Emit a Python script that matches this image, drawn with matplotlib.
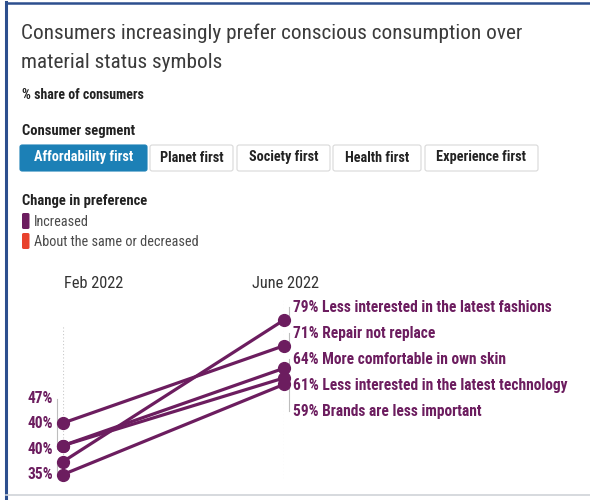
import matplotlib
matplotlib.use("Agg")
import matplotlib.pyplot as plt
from matplotlib import font_manager
from matplotlib.patches import FancyBboxPatch
from matplotlib.lines import Line2D
from matplotlib.transforms import offset_copy

# data
periods = ["Feb 2022", "June 2022"]
items = ["Less interested in the latest fashions", "Repair not replace",
         "More comfortable in own skin", "Less interested in the latest technology",
         "Brands are less important"]
feb = [35, 47, 40, 40, 31]
june = [79, 71, 64, 61, 59]
feb_labels = ["47%", "40%", "40%", "35%"]
segments = ["Affordability first", "Planet first", "Society first", "Health first", "Experience first"]
legend_items = ["Increased", "About the same or decreased"]

PURPLE = "#6c1d5f"
RED = "#e8412c"
BLUE = "#1c80b6"
W, H = 590, 500

installed = {f.name for f in font_manager.fontManager.ttflist}
narrow = [f for f in ["Roboto Condensed", "Liberation Sans Narrow", "Open Sans Condensed",
                      "DejaVu Sans Condensed", "Roboto"] if f in installed]
plt.rcParams["font.family"] = narrow + ["DejaVu Sans"]


def fx(x):
    return x / W


def fy(y):
    return 1 - y / H


fig = plt.figure(figsize=(W / 100, H / 100), dpi=100)
fig.patch.set_facecolor("white")

# frame edges
fig.add_artist(Line2D([fx(6), fx(6)], [0, fy(2)], color="#2d4f8e", lw=2.2))
fig.add_artist(Line2D([fx(6), 1], [fy(2.5), fy(2.5)], color="#2d4f8e", lw=1.8))
fig.add_artist(Line2D([fx(6), 1], [fy(495), fy(495)], color="#cfd3d8", lw=1.2))

# titles
fig.text(fx(21), fy(33), "Consumers increasingly prefer conscious consumption over",
         fontsize=15.3, color="#3b3b3b", va="center")
fig.text(fx(21), fy(62), "material status symbols", fontsize=15.3, color="#3b3b3b", va="center")
fig.text(fx(22), fy(95), "% share of consumers", fontsize=10, fontweight="bold",
         color="#222222", va="center")

# segment buttons
fig.text(fx(22), fy(131), "Consumer segment", fontsize=10.5, fontweight="bold",
         color="#222222", va="center")
btn_x = [20, 150, 237, 333, 425]
btn_w = [127, 83, 93, 88, 113]
for i, (name, x0, w) in enumerate(zip(segments, btn_x, btn_w)):
    active = i == 0
    box = FancyBboxPatch((fx(x0), fy(171)), fx(w), 26 / H,
                         boxstyle="round,pad=0,rounding_size=0.004",
                         transform=fig.transFigure,
                         facecolor=BLUE if active else "white",
                         edgecolor=BLUE if active else "#d9d9d9", lw=0.8)
    fig.add_artist(box)
    fig.text(fx(x0 + w / 2), fy(157.5), name, fontsize=10.3, fontweight="bold",
             color="white" if active else "#222222", ha="center", va="center")

# legend
fig.text(fx(22), fy(201), "Change in preference", fontsize=10.5, fontweight="bold",
         color="#222222", va="center")
for k, (lab, col) in enumerate(zip(legend_items, [PURPLE, RED])):
    ytop = 213 + k * 20
    fig.add_artist(FancyBboxPatch((fx(22), fy(ytop + 16)), fx(7.5), 16 / H,
                                  boxstyle="round,pad=0,rounding_size=0.003",
                                  transform=fig.transFigure, facecolor=col, edgecolor="none"))
    fig.text(fx(34), fy(ytop + 8.5), lab, fontsize=10.3, color="#4a4a4a", va="center")

# slope chart
ax = fig.add_axes([fx(63), fy(480), (284 - 63) / W, 180 / H])
ax.set_xlim(0, 1)
ax.set_ylim(29.3, 85.2)
ax.axis("off")

ax.axvline(0, ymin=0.01, ymax=0.86, color="#c8c8c8", lw=0.8, ls=(0, (1, 2)))
ax.axvline(1, ymin=0.01, ymax=1.0, color="#c8c8c8", lw=0.8, ls=(0, (1, 2)))

for a, b in zip(feb, june):
    ax.plot([0, 1], [a, b], color=PURPLE, lw=2.3, marker="o", ms=8.5,
            solid_capstyle="round", clip_on=False, zorder=3)

fig.text(fx(64), fy(284), periods[0], fontsize=11.8, color="#333333", va="center")
fig.text(fx(286), fy(284), periods[1], fontsize=11.8, color="#333333", ha="center", va="center")

# right-hand labels, spread evenly around the mean of the end points
order = sorted(range(len(june)), key=lambda i: -june[i])
step = 8.1
mid = sum(june) / len(june)
n = len(order)
right_txt = offset_copy(ax.transData, fig=fig, x=9, y=0, units="dots")
right_brk = offset_copy(ax.transData, fig=fig, x=5, y=0, units="dots")
for rank, i in enumerate(order):
    ly = mid + ((n - 1) / 2 - rank) * step
    ax.plot([1, 1], [june[i], ly], color="#bdbdbd", lw=0.8,
            transform=right_brk, clip_on=False, zorder=1)
    ax.text(1, ly, f"{june[i]}% {items[i]}", transform=right_txt, fontsize=11.2,
            fontweight="bold", color=PURPLE, va="center", ha="left", clip_on=False)

# left-hand labels stacked up from the lowest start point
left_txt = offset_copy(ax.transData, fig=fig, x=-10, y=0, units="dots")
left_brk = offset_copy(ax.transData, fig=fig, x=-6, y=0, units="dots")
lstep = 7.85
base = min(feb)
sorted_feb = sorted(feb, reverse=True)
m = len(feb_labels)
for rank, lab in enumerate(feb_labels):
    ly = base + (m - 1 - rank) * lstep
    ax.plot([0, 0], [sorted_feb[rank], ly], color="#bdbdbd", lw=0.8,
            transform=left_brk, clip_on=False, zorder=1)
    ax.text(0, ly, lab, transform=left_txt, fontsize=11.2, fontweight="bold",
            color=PURPLE, va="center", ha="right", clip_on=False)

fig.savefig("out.png", dpi=100, facecolor="white")
